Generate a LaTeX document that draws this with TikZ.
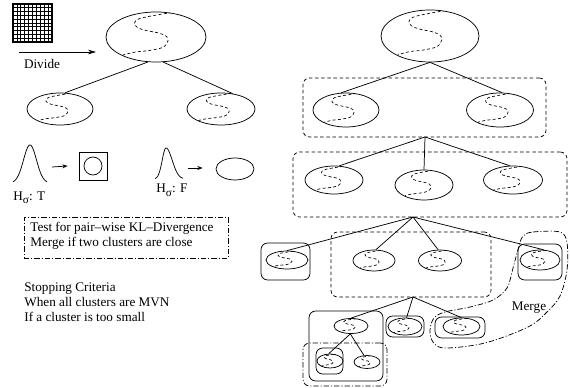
\documentclass[tikz,border=0pt]{standalone}
\usepackage{fontspec}
\setmainfont{Liberation Serif}
\usetikzlibrary{shapes.geometric, arrows.meta, fit, calc}
\begin{document}
\begin{tikzpicture}[x=0.75pt, y=-0.75pt, line width=0.55pt,
  font=\fontsize{9.9pt}{11.25pt}\selectfont,
  sline/.style={dash pattern=on 2.2pt off 1.8pt, line width=0.5pt},
  cl/.style 2 args={ellipse, draw, inner sep=0pt, minimum width=#1*0.75pt, minimum height=#2*0.75pt,
    path picture={\begin{scope}[shift={(path picture bounding box.center)}, x=#1*0.375pt, y=-#2*0.375pt]
      \draw[sline] plot[smooth, tension=0.6] coordinates {(0.32,-0.98) (-0.07,-0.85) (-0.35,-0.72) (-0.43,-0.55) (-0.37,-0.38) (-0.2,-0.26) (0.03,-0.17) (0.2,-0.04) (0.24,0.15) (0.14,0.41) (-0.14,0.54) (-0.41,0.6) (-0.66,0.72)};
    \end{scope}}},
  plainell/.style 2 args={ellipse, draw, inner sep=0pt, minimum width=#1*0.75pt, minimum height=#2*0.75pt},
  dbox/.style={draw, inner sep=0pt, rounded corners=5pt, dash pattern=on 2.6pt off 2pt},
  ddbox/.style={draw, inner sep=0pt, dash pattern=on 4pt off 1.5pt on 0.8pt off 1.5pt},
  sbox/.style={draw, inner sep=0pt, rounded corners=5pt},
  smallarrow/.style={-{Stealth[length=4pt, width=3pt]}},
  lab/.style={inner sep=0pt}
]
\useasboundingbox (0,0) rectangle (570,388);

% ---------- left: grid icon and divide ----------
\node[draw, line width=1pt, inner sep=0pt, fit={(13,4) (52,42)}] (grid) {};
\foreach \i in {1,...,9} {
  \draw[line width=0.6pt] (13+3.9*\i,4) -- (13+3.9*\i,42);
  \draw[line width=0.6pt] (13,4+3.8*\i) -- (52,4+3.8*\i);
}
\coordinate (da) at (19,52);
\coordinate (db) at (96,52);
\draw[-{Stealth[length=6pt, width=3.5pt]}] (da) -- (db);
\node[lab] (div) at (42,64) {Divide};

% ---------- left tree ----------
\node[cl={100}{50}] (TL) at (156,37) {};
\node[cl={66}{32}] (L1) at (60,109) {};
\node[cl={68}{32}] (R1) at (221,109) {};
\draw (TL.252) -- (L1.73);
\draw (TL.286) -- (R1.53);

% ---------- hypothesis test ----------
\draw plot[domain=13:47, samples=60, smooth] (\x, {183-38*exp(-((\x-30)/6.5)^2/2)});
\coordinate (bell1) at (52,167);
\node[draw, inner sep=0pt, fit={(79,152) (107,180)}] (sq) {};
\node[circle, draw, inner sep=0pt, minimum size=18*0.75pt] (sqc) at (93,166) {};
\draw[smallarrow] (bell1) -- ($(sq.west)+(-11,0)$);
\node[lab, anchor=base west] (hT) at (13,200) {H\raisebox{-0.55ex}{\fontsize{8.5pt}{9pt}\selectfont σ}: T};

\draw plot[domain=155:183, samples=70, smooth] (\x, {179-31*exp(-((\x-166)/((\x<166) ? 3.8 : 6.2))^2/2)});
\coordinate (bell2) at (188,168);
\node[plainell={38}{22}] (E2) at (235,169) {};
\draw[smallarrow] (bell2) -- ($(E2.west)+(-13,-1)$);
\node[lab, anchor=base west] (hF) at (156,193) {H\raisebox{-0.55ex}{\fontsize{8.5pt}{9pt}\selectfont σ}: F};

% ---------- merge test box ----------
\node[ddbox, fit={(24,217) (228,258)}] (kl) {};
\node[lab, anchor=west, align=left] (kltext) at (30,235.5) {Test for pair--wise KL--Divergence\\Merge if two clusters are close};

\node[lab, anchor=west, align=left] (stop) at (24,302) {Stopping Criteria\\When all clusters are MVN\\If a cluster is too small};

% ---------- right tree ----------
\node[cl={98}{52}] (RT) at (430,36) {};
\node[dbox, fit={(303,78) (546,137)}] (B1) {};
\node[cl={66}{34}] (R2L) at (346,110) {};
\node[cl={67}{34}] (R2R) at (500,110) {};
\draw (RT.south) -- (R2L.106);
\draw (RT.south) -- (R2R.83);

\coordinate (j1) at (425,137);
\node[dbox, fit={(293,152) (567,217)}] (B2) {};
\node[cl={58}{28}] (R3L) at (334,180) {};
\node[cl={58}{30}] (R3M) at (424,185) {};
\node[cl={59}{28}] (R3R) at (513,180) {};
\draw (j1) -- (R3L.70);
\draw (j1) -- (R3M.north);
\draw (j1) -- (R3R.103);

\coordinate (j2) at (413,217);
\node[sbox, fit={(261,243) (310,280)}] (K1) {};
\node[cl={42}{18}] (K1e) at (287,260) {};
\node[dbox, fit={(331,232) (491,297)}] (B3) {};
\node[cl={42}{21}] (M1) at (374,260.5) {};
\node[cl={43}{21}] (M2) at (440,260.5) {};
\node[sbox, fit={(518,244) (562,280)}] (K2) {};
\node[cl={40}{20}] (K2e) at (540,260) {};
\draw (j2) -- (K1e.north);
\draw (j2) -- (M1.80);
\draw (j2) -- (M2.100);
\draw (j2) -- (K2e.70);

% merge region
\draw[dash pattern=on 4pt off 1.5pt on 0.8pt off 1.5pt] plot[smooth cycle, tension=0.55] coordinates {
  (523,236) (533,232) (560,232) (567,243) (567,270) (560,296) (547,312) (528,327)
  (485,343) (445,348) (433,342) (430,330) (434,318) (445,312) (470,307) (493,300)
  (507,288) (513,268) (519,246)};
\node[lab] (merge) at (529,308) {Merge};

% ---------- bottom level ----------
\coordinate (j3) at (413,297);
\node[sbox, fit={(309,311) (383,381)}] (K3) {};
\node[ddbox, rounded corners=5pt, fit={(303,343) (387,386)}] (D3) {};
\node[cl={34}{15}] (N1) at (351,326) {};
\node[sbox, fit={(316,348) (343,374)}] (K4) {};
\node[cl={26}{14}] (N2) at (330,361) {};
\node[cl={26}{13}] (N3) at (367,362) {};
\draw (N1.265) -- (N2.100);
\draw (N1.265) -- (N3.115);

\node[sbox, fit={(386,316) (424,337)}] (K5) {};
\node[cl={34}{17}] (N4) at (405,326.5) {};
\node[sbox, fit={(435,317) (485,338)}] (K6) {};
\node[cl={37}{17}] (N5) at (461.5,326.5) {};
\draw (j3) -- (N1.north);
\draw (j3) -- (N4.80);
\draw (j3) -- (N5.north);
\end{tikzpicture}
\end{document}
